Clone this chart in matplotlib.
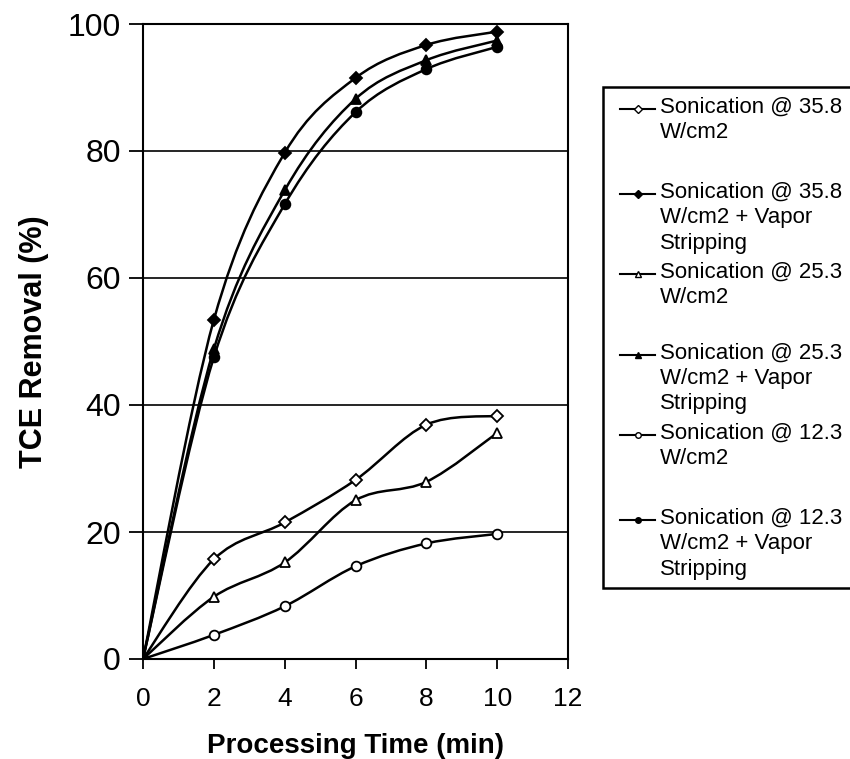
import matplotlib
matplotlib.use("Agg")
import matplotlib.pyplot as plt
from matplotlib.path import Path
from matplotlib.patches import PathPatch, Rectangle
from matplotlib.lines import Line2D

plt.rcParams['font.family'] = ['Liberation Sans', 'DejaVu Sans']

# processing time (min)
time = [0, 2, 4, 6, 8, 10]

# TCE removal (%)
son_358 = [0, 15.7, 21.5, 28.2, 36.9, 38.3]
son_358_vs = [0, 53.4, 79.7, 91.5, 96.7, 98.8]
son_253 = [0, 9.8, 15.2, 25.0, 27.9, 35.6]
son_253_vs = [0, 48.8, 73.8, 88.2, 94.3, 97.4]
son_123 = [0, 3.8, 8.3, 14.6, 18.2, 19.7]
son_123_vs = [0, 47.5, 71.6, 86.1, 92.9, 96.4]

labels = [
    ["Sonication @ 35.8", "W/cm2"],
    ["Sonication @ 35.8", "W/cm2 + Vapor", "Stripping"],
    ["Sonication @ 25.3", "W/cm2"],
    ["Sonication @ 25.3", "W/cm2 + Vapor", "Stripping"],
    ["Sonication @ 12.3", "W/cm2"],
    ["Sonication @ 12.3", "W/cm2 + Vapor", "Stripping"],
]
series = [son_358, son_358_vs, son_253, son_253_vs, son_123, son_123_vs]
markers = ['D', 'D', '^', '^', 'o', 'o']
filled = [False, True, False, True, False, True]
msizes = [6, 6, 7, 7, 7, 7]


def smooth_path(xs, ys):
    # excel style smoothed line: catmull-rom segments as cubic beziers
    pts = list(zip(xs, ys))
    verts = [pts[0]]
    codes = [Path.MOVETO]
    n = len(pts)
    for i in range(n - 1):
        p0 = pts[max(i - 1, 0)]
        p1 = pts[i]
        p2 = pts[i + 1]
        p3 = pts[min(i + 2, n - 1)]
        c1 = (p1[0] + (p2[0] - p0[0]) / 6, p1[1] + (p2[1] - p0[1]) / 6)
        c2 = (p2[0] - (p3[0] - p1[0]) / 6, p2[1] - (p3[1] - p1[1]) / 6)
        verts += [c1, c2, p2]
        codes += [Path.CURVE4] * 3
    return Path(verts, codes)


fig = plt.figure(figsize=(8.5, 7.59), dpi=100)
ax = fig.add_axes([143 / 850, 1 - 659 / 759, 425 / 850, 635 / 759])

for y in [20, 40, 60, 80]:
    ax.axhline(y, color='black', lw=1.2, zorder=1)

for ys, m, f, ms in zip(series, markers, filled, msizes):
    ax.add_patch(PathPatch(smooth_path(time, ys), facecolor='none',
                           edgecolor='black', lw=1.8, zorder=2))
    ax.plot(time, ys, linestyle='none', marker=m, ms=ms,
            mfc='black' if f else 'white', mec='black', mew=1.3, zorder=3)

ax.set_xlim(0, 12)
ax.set_ylim(0, 100)
ax.set_xticks(range(0, 13, 2))
ax.set_yticks(range(0, 101, 20))
for s in ax.spines.values():
    s.set_linewidth(1.5)
    s.set_color('black')
ax.tick_params(axis='y', direction='out', length=10, width=1.3, pad=6, labelsize=23)
ax.tick_params(axis='x', direction='out', length=7, width=1.3, pad=13, labelsize=19)
ax.set_xlabel('Processing Time (min)', fontsize=20, fontweight='bold', labelpad=16)
ax.set_ylabel('TCE Removal (%)', fontsize=22, fontweight='bold', labelpad=13)

# legend box drawn by hand so the handle sits on the first text line
fig_px = lambda x, y: (x / 850, 1 - y / 759)
fig.patches.append(Rectangle(fig_px(603, 588), 260 / 850, 501 / 759,
                             transform=fig.transFigure, facecolor='white',
                             edgecolor='black', lw=1.8, zorder=0))
first_lines = [107, 192, 272, 353, 433, 518]
for y0, lab, m, f in zip(first_lines, labels, markers, filled):
    hx0, hy = fig_px(620, y0 + 2)
    hx1, _ = fig_px(655, y0 + 2)
    fig.add_artist(Line2D([hx0, hx1], [hy, hy], color='black', lw=1.5,
                          transform=fig.transFigure))
    fig.add_artist(Line2D([(hx0 + hx1) / 2], [hy], marker=m, ms=4,
                          mfc='black' if f else 'white', mec='black', mew=1,
                          transform=fig.transFigure))
    for k, line in enumerate(lab):
        tx, ty = fig_px(660, y0 + 25.5 * k)
        fig.text(tx, ty, line, fontsize=16, ha='left', va='center')

fig.savefig('out.png', dpi=100)
